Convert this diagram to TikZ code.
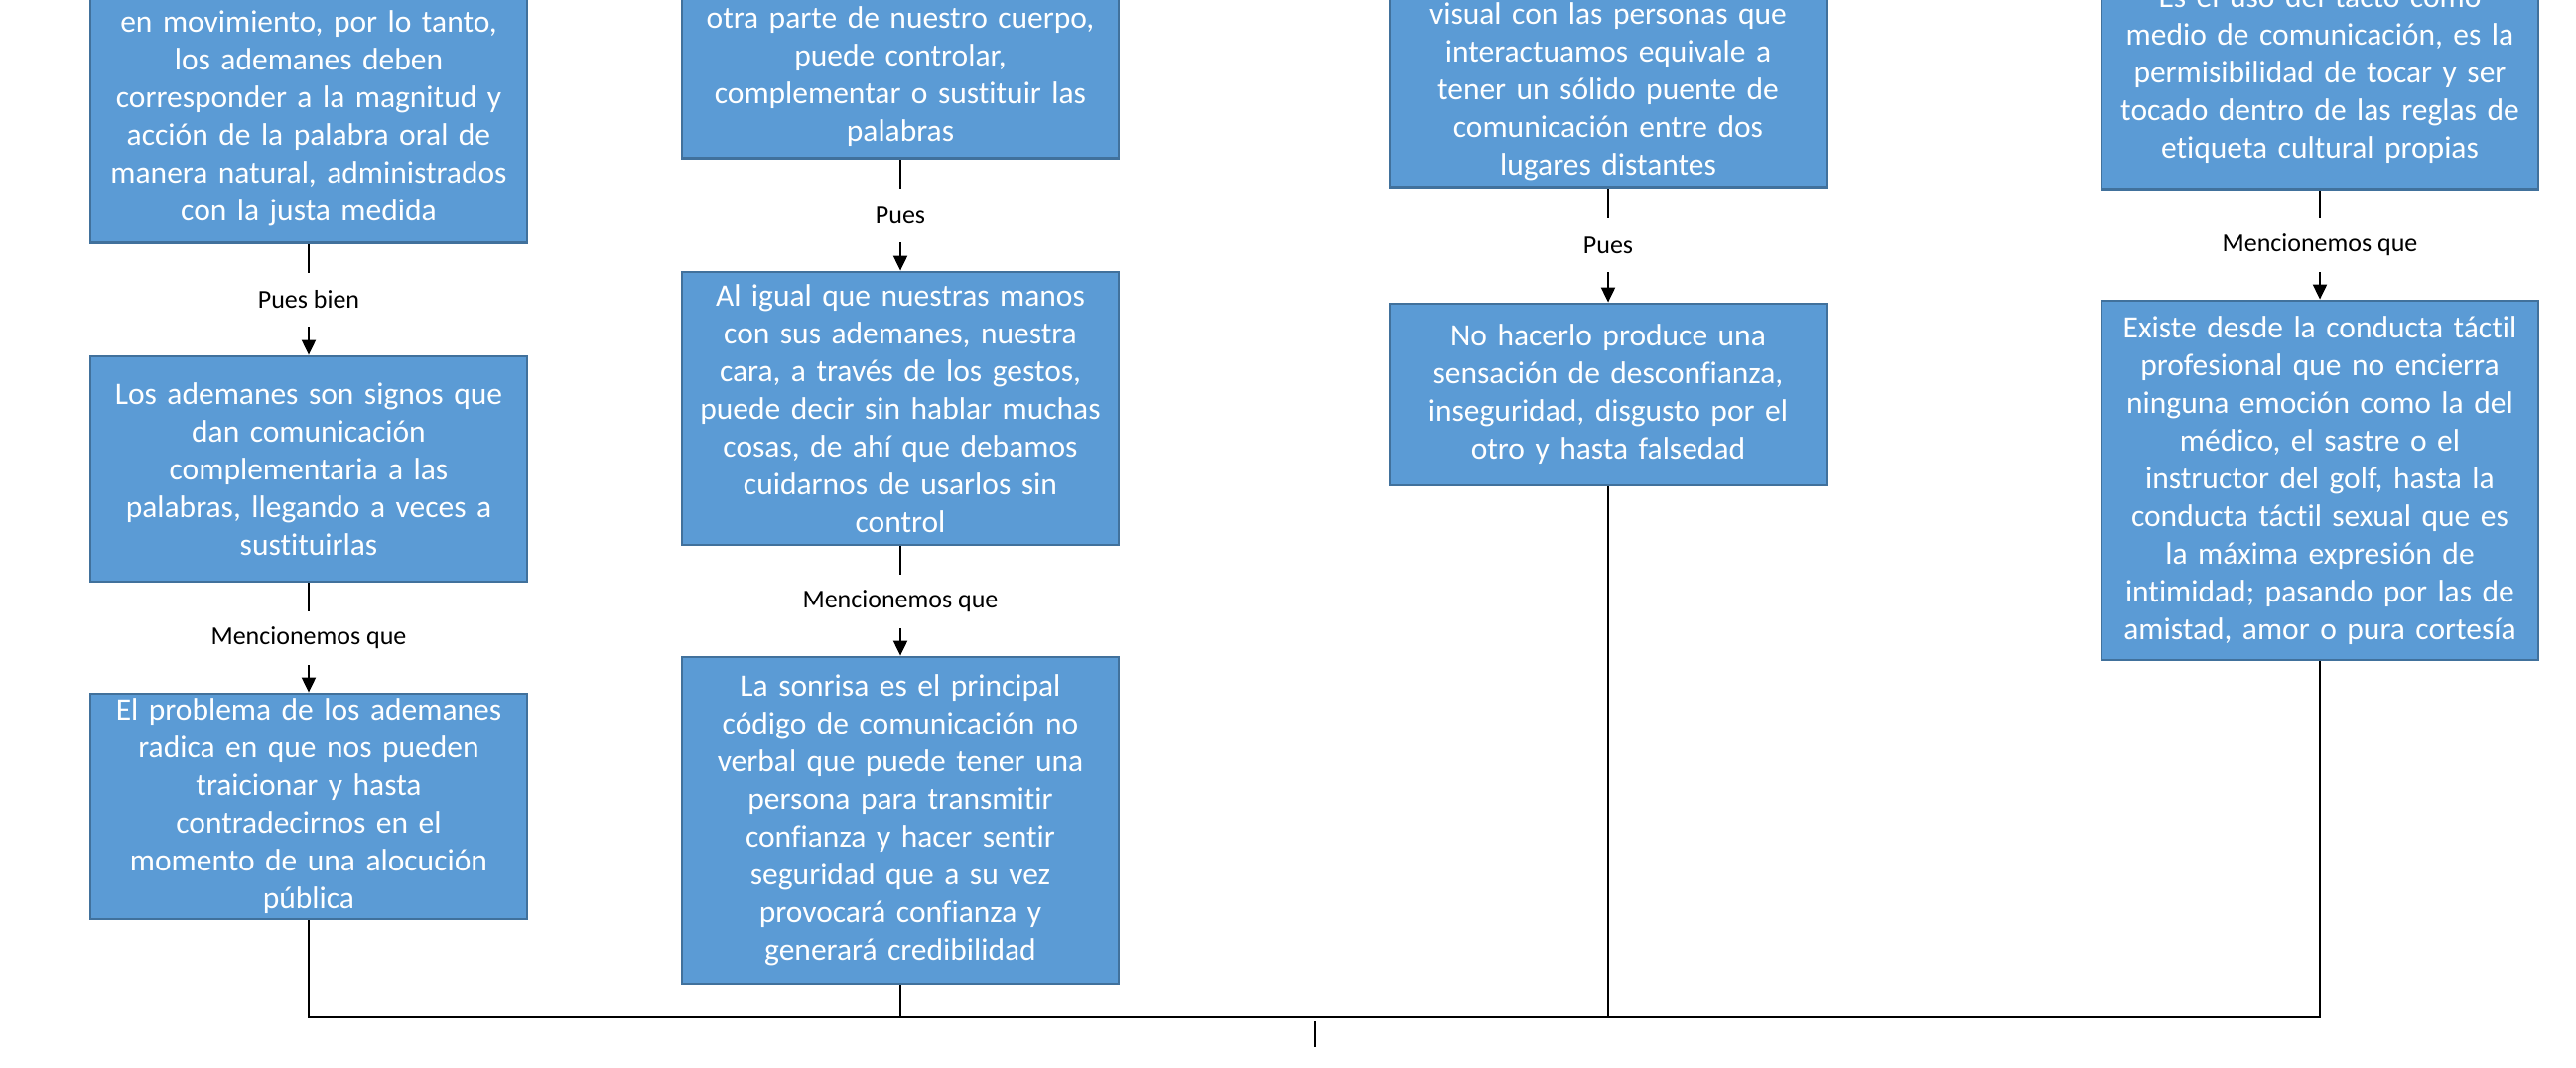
\documentclass[tikz,border=0pt]{standalone}
\usepackage{fontspec}
\setmainfont[Ligatures=NoCommon]{Carlito}
\usetikzlibrary{arrows.meta}
\definecolor{boxfill}{HTML}{5B9BD5}
\definecolor{boxline}{HTML}{41719C}
\begin{document}
\begin{tikzpicture}[x=1pt,y=1pt,
 box/.style={draw=boxline, fill=boxfill, line width=2.8pt, text=white, align=center,
   text width=420pt, inner xsep=10pt, font=\fontsize{31.5}{38}\selectfont},
 lab/.style={fill=white, font=\fontsize{26}{31}\selectfont, inner xsep=2pt, inner ysep=0pt,
   minimum height=54pt, text=black},
 conn/.style={draw=black, line width=2pt, -{Triangle[length=15pt,width=14pt]}},
 stub/.style={draw=black, line width=2pt},
 link/.style={draw=black, line width=1.3pt}]
\path[use as bounding box] (0,0) rectangle (2595,-1076);
\clip (0,0) rectangle (2595,-1076);

% column 1
\node[box, anchor=south, inner ysep=17pt] (a1) at (311,-246)
 {\phantom{x}\\ en movimiento, por lo tanto,\\ los ademanes deben\\ corresponder a la magnitud y\\ acción de la palabra oral de\\ manera natural, administrados\\ con la justa medida};
\node[box, minimum height=227pt] (a2) at (311,-472.5)
 {Los ademanes son signos que\\ dan comunicación\\ complementaria a las\\ palabras, llegando a veces a\\ sustituirlas};
\node[box, minimum height=227pt] (a3) at (311,-812.5)
 {El problema de los ademanes\\ radica en que nos pueden\\ traicionar y hasta\\ contradecirnos en el\\ momento de una alocución\\ pública};

% column 2
\node[box, anchor=south, inner ysep=12pt] (b1) at (907,-161)
 {\phantom{x}\\ otra parte de nuestro cuerpo,\\ puede controlar,\\ complementar o sustituir las\\ palabras};
\node[box, minimum height=275pt] (b2) at (907,-411.5)
 {Al igual que nuestras manos\\ con sus ademanes, nuestra\\ cara, a través de los gestos,\\ puede decir sin hablar muchas\\ cosas, de ahí que debamos\\ cuidarnos de usarlos sin\\ control};
\node[box, minimum height=329pt] (b3) at (907,-826.5)
 {La sonrisa es el principal\\ código de comunicación no\\ verbal que puede tener una\\ persona para transmitir\\ confianza y hacer sentir\\ seguridad que a su vez\\ provocará confianza y\\ generará credibilidad};

% column 3
\node[box, anchor=south, inner ysep=7pt] (c1) at (1620,-190)
 {\phantom{x}\\ visual con las personas que\\ interactuamos equivale a\\ tener un sólido puente de\\ comunicación entre dos\\ lugares distantes};
\node[box, minimum height=183pt] (c2) at (1620,-397.5)
 {No hacerlo produce una\\ sensación de desconfianza,\\ inseguridad, disgusto por el\\ otro y hasta falsedad};

% column 4
\node[box, anchor=south, inner ysep=26pt] (d1) at (2337,-192)
 {\phantom{x}\\ Es el uso del tacto como\\ medio de comunicación, es la\\ permisibilidad de tocar y ser\\ tocado dentro de las reglas de\\ etiqueta cultural propias};
\node[box, minimum height=362pt] (d2) at (2337,-484)
 {Existe desde la conducta táctil\\ profesional que no encierra\\ ninguna emoción como la del\\ médico, el sastre o el\\ instructor del golf, hasta la\\ conducta táctil sexual que es\\ la máxima expresión de\\ intimidad; pasando por las de\\ amistad, amor o pura cortesía};

% connectors with labels
\draw[conn] (a1.south) -- (a2.north) node[lab, midway] {Pues bien};
\draw[conn] (a2.south) -- (a3.north) node[lab, midway] {Mencionemos que};
\draw[conn] (b1.south) -- (b2.north) node[lab, midway] {Pues};
\draw[conn] (b2.south) -- (b3.north) node[lab, midway] {Mencionemos que};
\draw[conn] (c1.south) -- (c2.north) node[lab, midway] {Pues};
\draw[conn] (d1.south) -- (d2.north) node[lab, midway] {Mencionemos que};

% merge lines
\coordinate (j) at (1325,-1025);
\draw[link] (a3.south) -- (a3.south |- j) -- (d2.south |- j) -- (d2.south);
\draw[link] (b3.south) -- (b3.south |- j);
\draw[link] (c2.south) -- (c2.south |- j);
\coordinate (jt) at (1325,-1029);
\coordinate (jb) at (1325,-1055);
\draw[stub] (jt) -- (jb);
\end{tikzpicture}
\end{document}
